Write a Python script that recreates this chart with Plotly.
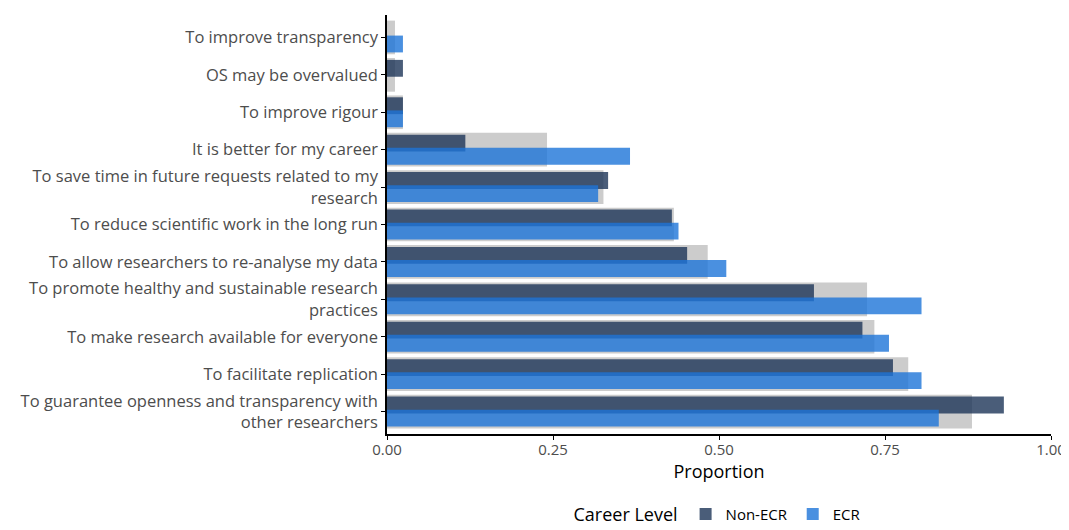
import plotly.graph_objects as go

# Categories listed bottom to top
categories = [
    "To guarantee openness and transparency with<br>other researchers",
    "To facilitate replication",
    "To make research available for everyone",
    "To promote healthy and sustainable research<br>practices",
    "To allow researchers to re-analyse my data",
    "To reduce scientific work in the long run",
    "To save time in future requests related to my<br>research",
    "It is better for my career",
    "To improve rigour",
    "OS may be overvalued",
    "To improve transparency",
]
overall = [0.881, 0.785, 0.734, 0.723, 0.483, 0.432, 0.326, 0.241, 0.024, 0.012, 0.012]
non_ecr = [0.929, 0.762, 0.716, 0.643, 0.452, 0.429, 0.333, 0.118, 0.024, 0.024, 0.0]
ecr = [0.831, 0.805, 0.756, 0.805, 0.511, 0.439, 0.318, 0.366, 0.024, 0.0, 0.024]
x_ticks = [0, 0.25, 0.5, 0.75, 1.0]
x_ticklabels = ["0.00", "0.25", "0.50", "0.75", "1.00"]

FONT = "Open Sans"
idx = list(range(len(categories)))
dodge = 0.175

fig = go.Figure()
fig.add_trace(go.Bar(
    x=overall, y=idx, orientation="h", width=0.9,
    marker=dict(color="#cccccc", line=dict(width=0)),
    showlegend=False, name="Overall",
))
fig.add_trace(go.Bar(
    x=non_ecr, y=[i + dodge for i in idx], orientation="h", width=0.45,
    marker=dict(color="rgba(29,53,87,0.8)", line=dict(width=0)),
    name="Non-ECR",
))
fig.add_trace(go.Bar(
    x=ecr, y=[i - dodge for i in idx], orientation="h", width=0.45,
    marker=dict(color="rgba(29,116,216,0.8)", line=dict(width=0)),
    name="ECR",
))

# page body has an 8px default margin, so the figure is sized to fit the window
fig.update_layout(
    barmode="overlay",
    width=1061, height=522,
    margin=dict(l=379, r=18, t=7, b=96, autoexpand=False),
    plot_bgcolor="white", paper_bgcolor="white",
    font=dict(family=FONT, color="#4d4d4d", size=15),
    xaxis=dict(
        range=[0, 1.0], tickvals=x_ticks, ticktext=x_ticklabels,
        showline=True, linecolor="black", linewidth=1.5,
        ticks="outside", ticklen=4, tickcolor="black",
        ticklabelstandoff=-3,
        showgrid=False, zeroline=False, automargin=False,
        tickfont=dict(size=15, color="#4d4d4d"),
        title=dict(text="Proportion", font=dict(size=18, color="black"), standoff=0),
    ),
    yaxis=dict(
        range=[-0.6, 10.6], tickvals=idx, ticktext=categories,
        showline=True, linecolor="black", linewidth=1.5,
        ticks="outside", ticklen=4, tickcolor="black",
        showgrid=False, zeroline=False, automargin=False,
        tickfont=dict(size=16.5, color="#4d4d4d"),
    ),
    legend=dict(
        orientation="h", x=0.5, xanchor="center", y=-0.193, yanchor="middle",
        title=dict(text="Career Level", font=dict(size=18, color="black")),
        font=dict(size=15, color="black"),
        traceorder="normal",
    ),
)

fig.write_html("out.html")
